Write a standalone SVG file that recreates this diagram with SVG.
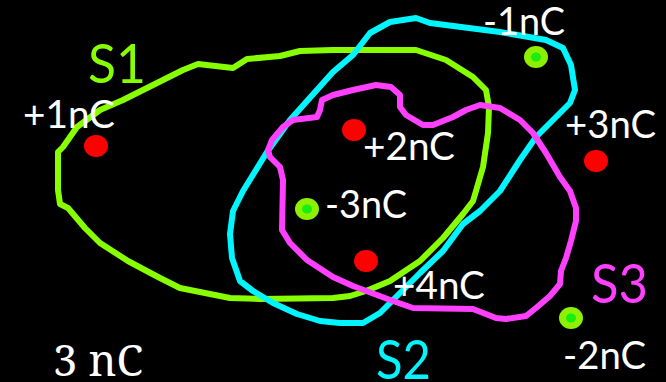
<svg xmlns="http://www.w3.org/2000/svg" width="666" height="382" viewBox="0 0 666 382">
<style>
.bg{fill:#000}
.surf{fill:none;stroke-width:6;stroke-linejoin:round;stroke-linecap:round}
.s1{stroke:#88ff00}
.s2{stroke:#00f5ff}
.s3{stroke:#ff40ff}
.lbl{font-family:Lato,"Open Sans",sans-serif;font-size:38px;fill:#fff}
.big{font-family:Lato,"Open Sans",sans-serif;font-size:54px}
.pos{fill:#ff0000}
.negO{fill:#8cf000}
.negI{fill:#18ee10}
.serif{font-family:"Noto Serif","DejaVu Serif","Liberation Serif",serif;font-size:44px;fill:#fff}
</style>
<rect class="bg" x="0" y="0" width="666" height="382"/>
<g id="connectors">
<path id="S1-curve" class="surf s1" d="M58,190 L58,152 L63,147 L77,127 L100,110 L123,100 L147,88 L167,78 L183,70 L198,64 L233,68 L247,59 L280,56 L300,51 L333,50 L416,50 L446,60 L473,77 L486,90 L489,107 L488,133 L483,167 L476,191 L473,201 L463,214 L443,238 L420,261 L390,281 L366,291 L350,296 L333,298 L260,299 L230,298 L180,288 L160,278 L143,269 L128,261 L100,243 L85,228 L68,208 L60,204 Z"/>
<path id="S2-curve" class="surf s2" d="M416,18 L390,22 L370,33 L353,55 L333,72 L290,120 L267,152 L243,191 L233,211 L230,234 L232,258 L240,281 L253,291 L273,303 L297,314 L320,321 L340,323 L363,323 L380,313 L400,293 L420,273 L443,251 L463,224 L480,211 L500,191 L520,160 L536,137 L553,120 L570,103 L575,90 L571,65 L563,48 L546,40 L500,32 L430,23 Z"/>
<path id="S3-curve" class="surf s3" d="M293,120 L317,117 L320,110 L322,100 L333,95 L353,90 L376,85 L391,87 L400,95 L400,107 L406,115 L423,125 L433,125 L453,117 L466,110 L480,105 L500,108 L520,120 L533,133 L546,153 L560,177 L570,191 L576,208 L576,221 L571,241 L566,258 L561,271 L560,284 L550,296 L536,308 L526,316 L506,319 L496,318 L473,309 L413,308 L393,301 L353,286 L333,277 L307,260 L290,243 L282,230 L283,180 L280,167 L270,157 L268,150 L272,140 L283,127 Z"/>
</g>
<g id="S1"><text class="big" x="88" y="83" fill="#88ff00" textLength="58" lengthAdjust="spacingAndGlyphs">S1</text></g>
<g id="S2"><text class="big" x="376" y="379" fill="#00f5ff" textLength="55" lengthAdjust="spacingAndGlyphs">S2</text></g>
<g id="S3"><text class="big" x="591" y="303" fill="#ff40ff" textLength="57" lengthAdjust="spacingAndGlyphs">S3</text></g>
<g id="q1"><ellipse class="pos" cx="96" cy="146" rx="12" ry="11"/><text class="lbl" x="23" y="128" textLength="92" lengthAdjust="spacingAndGlyphs">+1nC</text></g>
<g id="q2"><ellipse class="pos" cx="354" cy="130" rx="12" ry="11"/><text class="lbl" x="363" y="160" textLength="92" lengthAdjust="spacingAndGlyphs">+2nC</text></g>
<g id="q3"><ellipse class="pos" cx="596" cy="161" rx="12" ry="11"/><text class="lbl" x="565" y="138" textLength="91" lengthAdjust="spacingAndGlyphs">+3nC</text></g>
<g id="q4"><ellipse class="pos" cx="366" cy="261" rx="12" ry="11"/><text class="lbl" x="393" y="299" textLength="92" lengthAdjust="spacingAndGlyphs">+4nC</text></g>
<g id="qm1"><ellipse class="negO" cx="536" cy="57" rx="12" ry="11"/><ellipse class="negI" cx="536" cy="57" rx="5" ry="4.5"/><text class="lbl" x="483" y="35" textLength="82" lengthAdjust="spacingAndGlyphs">-1nC</text></g>
<g id="qm3"><ellipse class="negO" cx="307" cy="209" rx="12" ry="11"/><ellipse class="negI" cx="307" cy="209" rx="5" ry="4.5"/><text class="lbl" x="325" y="218" textLength="82" lengthAdjust="spacingAndGlyphs">-3nC</text></g>
<g id="qm2"><ellipse class="negO" cx="571" cy="318" rx="12" ry="11"/><ellipse class="negI" cx="571" cy="318" rx="5" ry="4.5"/><text class="lbl" x="563" y="369" textLength="83" lengthAdjust="spacingAndGlyphs">-2nC</text></g>
<g id="total"><text class="serif" x="53" y="376" textLength="90" lengthAdjust="spacingAndGlyphs">3 nC</text></g>
</svg>
